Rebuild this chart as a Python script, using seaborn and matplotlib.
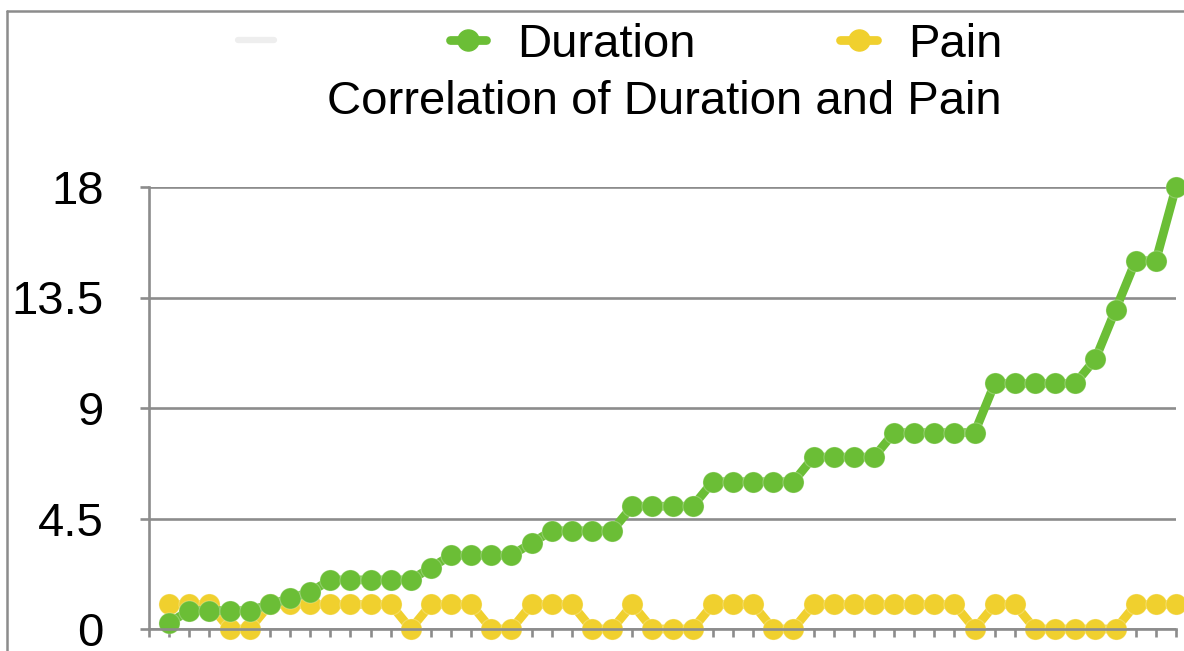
import numpy as np
import pandas as pd
import seaborn as sns
import matplotlib
matplotlib.use("Agg")
import matplotlib.pyplot as plt
from matplotlib.lines import Line2D

# Duration and pain score for each of the 51 observations
duration = [0.25, 0.75, 0.75, 0.75, 0.75, 1, 1.25, 1.5, 2, 2, 2, 2, 2, 2.5,
            3, 3, 3, 3, 3.5, 4, 4, 4, 4, 5, 5, 5, 5, 6, 6, 6, 6, 6,
            7, 7, 7, 7, 8, 8, 8, 8, 8, 10, 10, 10, 10, 10, 11, 13, 15, 15, 18]
pain = [1, 1, 1, 0, 0, 1, 1, 1, 1, 1, 1, 1, 0, 1, 1, 1, 0, 0, 1, 1, 1,
        0, 0, 1, 0, 0, 0, 1, 1, 1, 0, 0, 1, 1, 1, 1, 1, 1, 1, 1, 0,
        1, 1, 0, 0, 0, 0, 0, 1, 1, 1]
series_names = ["Duration", "Pain"]
y_ticks = [0, 4.5, 9, 13.5, 18]
y_tick_labels = ["0", "4.5", "9", "13.5", "18"]
title_text = "Correlation of Duration and Pain"

GREEN = "#6bbe36"
YELLOW = "#f0d02e"
GRID = "#8c8c8c"
FS = 34

sns.set_style("white")
plt.rcParams["font.family"] = ["Liberation Sans", "DejaVu Sans"]
plt.rcParams["text.color"] = "black"
plt.rcParams["ytick.labelcolor"] = "black"

idx = np.arange(len(duration))
df = pd.DataFrame({"obs": np.concatenate([idx, idx]),
                   "value": duration + pain,
                   "series": ["Duration"] * len(duration) + ["Pain"] * len(pain)})

fig = plt.figure(figsize=(11.84, 6.51), dpi=100)
ax = fig.add_axes([149 / 1184, 1 - 629 / 651, (1176 - 149) / 1184, (629 - 187) / 651])

palette = {"Duration": GREEN, "Pain": YELLOW}
sns.lineplot(data=df, x="obs", y="value", hue="series",
             hue_order=["Pain", "Duration"], palette=palette,
             marker="o", markersize=15.2, linewidth=6.3,
             markeredgecolor="#ffffff40", markeredgewidth=0.8,
             legend=False, ax=ax)
for ln in ax.lines:
    ln.set_clip_on(False)
    ln.set_solid_joinstyle("round")

ax.set_xlim(-1, len(duration) - 1)
ax.set_ylim(0, 18)
ax.set_xticks(np.arange(-1, len(duration)))
ax.set_xticklabels([])
ax.set_yticks(y_ticks)
ax.set_yticklabels(y_tick_labels, fontsize=FS, va="center_baseline")
ax.set_xlabel("")
ax.set_ylabel("")

ax.yaxis.grid(True, color=GRID, linewidth=1.9)
ax.xaxis.grid(False)
ax.set_axisbelow(True)
for side in ["top", "right"]:
    ax.spines[side].set_visible(False)
for side in ["left", "bottom"]:
    ax.spines[side].set_color(GRID)
    ax.spines[side].set_linewidth(1.9)
ax.tick_params(axis="y", direction="out", length=6.5, width=1.9, color=GRID,
               pad=26, left=True)
ax.tick_params(axis="x", direction="out", length=5.5, width=1.9, color=GRID,
               bottom=True)

# legend: an unlabeled placeholder entry followed by the two series
handles = [
    Line2D([], [], color="#eeeeee", linewidth=4.5),
    Line2D([], [], color=GREEN, linewidth=6.3, marker="o", markersize=15.2),
    Line2D([], [], color=YELLOW, linewidth=6.3, marker="o", markersize=15.2),
]
fig.legend(handles, [""] + series_names, loc="center",
           bbox_to_anchor=(620 / 1184, 1 - 45 / 651), ncol=3, frameon=False,
           fontsize=FS, handlelength=0.78, handletextpad=0.66,
           columnspacing=3.05, borderpad=0, borderaxespad=0)

fig.text(664 / 1184, 1 - 102 / 651, title_text, fontsize=FS,
         ha="center", va="center")

# outer frame along the top and left edges
fig.add_artist(Line2D([7 / 1184, 1.0], [1 - 11 / 651, 1 - 11 / 651],
                      transform=fig.transFigure, color=GRID, linewidth=1.8))
fig.add_artist(Line2D([7 / 1184, 7 / 1184], [0, 1 - 11 / 651],
                      transform=fig.transFigure, color=GRID, linewidth=1.8))

fig.savefig("out.png", dpi=100)
